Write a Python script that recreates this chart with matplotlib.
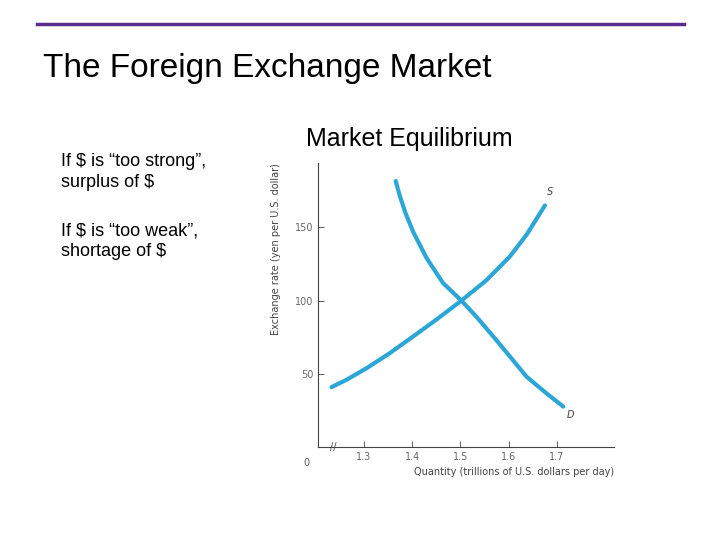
import matplotlib.pyplot as plt

# curve points (quantity, yen per dollar)
supply_q = [1.233, 1.264, 1.306, 1.354, 1.402, 1.450, 1.502, 1.554, 1.602, 1.637, 1.675]
supply_r = [40.9, 45.9, 53.9, 64.2, 75.5, 87, 100, 114, 130, 145, 165]
demand_q = [1.366, 1.374, 1.386, 1.402, 1.430, 1.464, 1.502, 1.533, 1.568, 1.602, 1.637, 1.678, 1.713]
demand_r = [181.7, 172, 160, 147, 129, 112, 100, 89, 75.5, 62, 48, 36.7, 27.6]
x_ticks = [1.3, 1.4, 1.5, 1.6, 1.7]
y_ticks = [50, 100, 150]

fig = plt.figure(figsize=(7.2, 5.4), dpi=100)
sans = ["Liberation Sans", "DejaVu Sans"]

# header rule and titles
fig.add_artist(plt.Line2D([37 / 720, 684 / 720], [1 - 24 / 540] * 2, color="#5b2c8c", lw=2.5))
fig.text(43 / 720, 1 - 68 / 540, "The Foreign Exchange Market", fontsize=24, va="center", family=sans)
fig.text(409 / 720, 1 - 139 / 540, "Market Equilibrium", fontsize=18, ha="center", va="center", family=sans)
fig.text(61 / 720, 1 - 153 / 540, "If $ is \u201ctoo strong\u201d,\nsurplus of $",
         fontsize=13, va="top", linespacing=1.3, family=sans)
fig.text(61 / 720, 1 - 222 / 540, "If $ is \u201ctoo weak\u201d,\nshortage of $",
         fontsize=13, va="top", linespacing=1.3, family=sans)

ax = fig.add_axes([318 / 720, 1 - 447 / 540, 296 / 720, 284 / 540])
curve = "#2ba6d6"
ax.plot(supply_q, supply_r, color=curve, lw=3, solid_capstyle="round")
ax.plot(demand_q, demand_r, color=curve, lw=3, solid_capstyle="round")
ax.text(1.68, 172, "S", fontsize=7, style="italic", color="#444")
ax.text(1.72, 20, "D", fontsize=7, style="italic", color="#444")

ax.set_xlim(1.205, 1.818)
ax.set_ylim(0, 194)
ax.set_xticks(x_ticks)
ax.set_xticklabels([str(v) for v in x_ticks])
ax.set_yticks(y_ticks)
ax.tick_params(direction="in", labelsize=7, colors="#666", length=4)
for s in ("top", "right"):
    ax.spines[s].set_visible(False)
for s in ("left", "bottom"):
    ax.spines[s].set_color("#444")
ax.set_xlabel("Quantity (trillions of U.S. dollars per day)", fontsize=7, color="#444", loc="right")
ax.set_ylabel("Exchange rate (yen per U.S. dollar)", fontsize=7, color="#444", loc="top", labelpad=10)
ax.text(-0.04, -0.04, "0", transform=ax.transAxes, fontsize=7, color="#555", ha="center", va="top")
ax.text(0.05, 0.0, "//", transform=ax.transAxes, fontsize=7, color="#444", ha="center", va="center")

fig.savefig("out.png", dpi=100)
